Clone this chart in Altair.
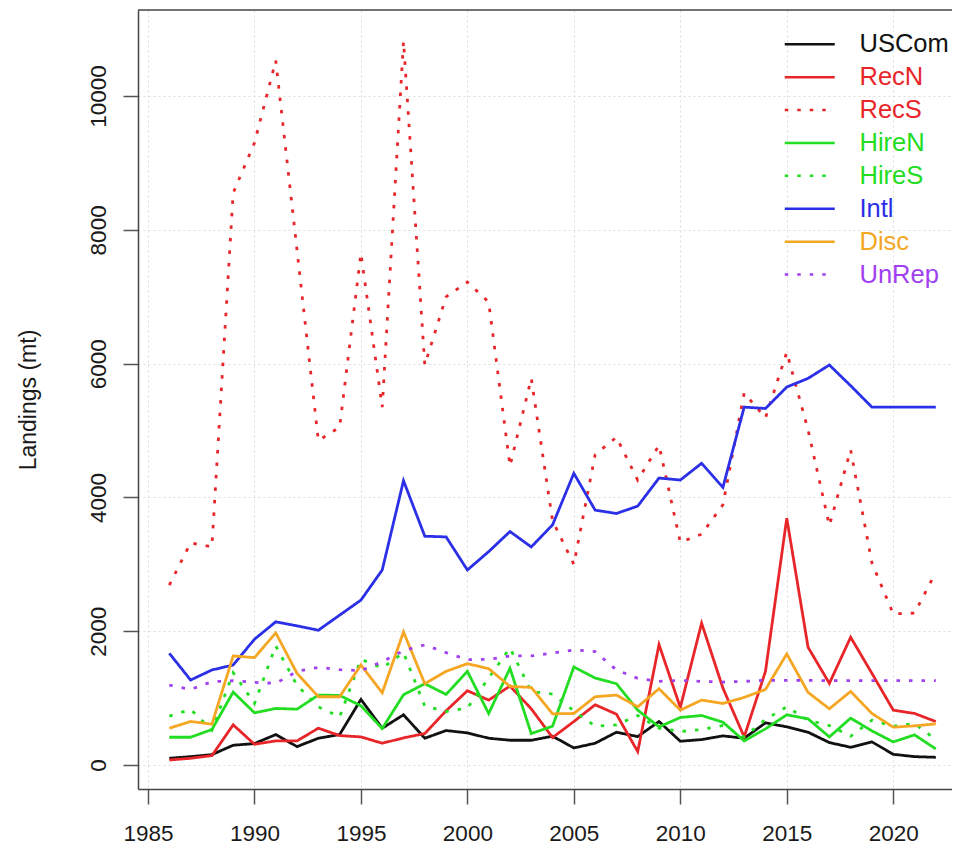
import altair as alt
import pandas as pd

years = list(range(1986, 2023))

uscom = [100, 125, 155, 295, 320, 455, 275, 400, 455, 980, 550, 750, 400, 515, 480, 400, 370, 370,
         430, 255, 325, 490, 425, 650, 355, 380, 435, 400, 630, 570, 490, 335, 265, 345, 160, 125, 115]
recn = [75, 100, 140, 600, 310, 360, 360, 550, 440, 420, 325, 405, 470, 810, 1110, 970, 1180, 840,
        410, 650, 900, 760, 200, 1800, 860, 2120, 1150, 420, 1400, 3690, 1760, 1220, 1910, 1370, 820, 770, 650]
recs = [2690, 3320, 3260, 8550, 9300, 10530, 7690, 4850, 5050, 7650, 5350, 10820, 5980, 7000, 7220, 6920, 4470, 5780,
        3650, 3000, 4640, 4900, 4260, 4780, 3330, 3450, 3890, 5560, 5190, 6170, 5010, 3580, 4710, 3020, 2260, 2270, 2880]
hiren = [415, 415, 530, 1090, 780, 845, 835, 1045, 1040, 885, 545, 1050, 1215, 1055, 1400, 770, 1445, 470,
         580, 1465, 1300, 1215, 820, 570, 710, 740, 640, 360, 540, 750, 690, 420, 700, 510, 345, 450, 240]
hires = [730, 830, 520, 1380, 920, 1780, 1190, 870, 720, 1580, 1450, 1680, 880, 800, 850, 1300, 1750, 1100,
         1060, 810, 580, 600, 740, 550, 500, 530, 590, 420, 680, 870, 670, 590, 430, 670, 580, 620, 380]
intl = [1670, 1270, 1420, 1495, 1880, 2140, 2080, 2015, 2240, 2465, 2915, 4250, 3420, 3410, 2915, 3190, 3490, 3260,
        3590, 4360, 3810, 3760, 3870, 4290, 4260, 4510, 4150, 5350, 5330, 5650, 5780, 5980, 5670, 5350, 5350, 5350, 5350]
disc = [550, 650, 610, 1630, 1605, 1975, 1370, 1020, 1020, 1495, 1080, 1990, 1215, 1400, 1515, 1440, 1175, 1160,
        765, 770, 1020, 1045, 870, 1140, 820, 970, 920, 1010, 1130, 1660, 1085, 840, 1100, 770, 565, 585, 615]
unrep = [1195, 1130, 1245, 1260, 1235, 1220, 1400, 1460, 1425, 1410, 1545, 1710, 1795, 1680, 1575, 1580, 1630, 1630,
         1675, 1720, 1695, 1420, 1295, 1250, 1265, 1250, 1240, 1250, 1265, 1265, 1265, 1260, 1260, 1260, 1260, 1260, 1260]

series_names = ["USCom", "RecN", "RecS", "HireN", "HireS", "Intl", "Disc", "UnRep"]
series_values = [uscom, recn, recs, hiren, hires, intl, disc, unrep]
series_colors = ["#111111", "#E8262A", "#E8262A", "#22DD22", "#22DD22", "#2B2FE6", "#F5A623", "#A040F0"]
series_dash = [[1, 0], [1, 0], [3.5, 9], [1, 0], [3.5, 9], [1, 0], [1, 0], [3.5, 9]]

x_ticks = [1985, 1990, 1995, 2000, 2005, 2010, 2015, 2020]
y_ticks = [0, 2000, 4000, 6000, 8000, 10000]
y_domain = [-359, 11287]
x_domain = [1984.53, 2022.76]

rows = []
for name, vals in zip(series_names, series_values):
    for yr, v in zip(years, vals):
        rows.append({"year": yr, "value": v, "series": name})
df = pd.DataFrame(rows)

label_expr = ""
for name, col in zip(series_names, series_colors):
    label_expr += f"datum.label == '{name}' ? '{col}' : "
label_expr += "'#111111'"

FONT = "Liberation Sans"
FRAME = "#444444"

legend = alt.Legend(
    title=None,
    orient="none",
    legendX=659,
    legendY=21.5,
    symbolType="M-2.5,0H2.5",
    symbolSize=400,
    symbolStrokeWidth=2.5,
    labelFont=FONT,
    labelFontSize=25.5,
    labelOffset=37,
    rowPadding=5.9,
    labelColor=alt.ExprRef(label_expr),
)

lines = alt.Chart(df).mark_line(strokeWidth=2.8).encode(
    x=alt.X("year:Q",
            scale=alt.Scale(domain=x_domain, nice=False, zero=False),
            axis=alt.Axis(values=x_ticks, format="d", title=None, tickSize=15,
                          labelPadding=18, labelFontSize=22.5, labelFont=FONT,
                          labelColor="#1a1a1a", domain=True, domainColor=FRAME, domainWidth=1.5,
                          grid=True, tickColor="#555555", tickWidth=1.5,
                          gridColor="#dcdcdc", gridDash=[2, 3], gridWidth=1)),
    y=alt.Y("value:Q",
            scale=alt.Scale(domain=y_domain, nice=False, zero=False),
            axis=alt.Axis(values=y_ticks, format="d", title="Landings (mt)", tickSize=15,
                          labelAngle=-90, labelAlign="center", labelBaseline="bottom",
                          labelPadding=13, labelFontSize=22.5, labelFont=FONT,
                          labelColor="#1a1a1a", domain=True, domainColor=FRAME, domainWidth=1.5,
                          grid=True, tickColor="#555555", tickWidth=1.5,
                          gridColor="#dcdcdc", gridDash=[2, 3], gridWidth=1,
                          titleFont=FONT, titleFontSize=23, titleFontWeight="normal",
                          titleColor="#1a1a1a", titleX=-110, titleBaseline="middle")),
    color=alt.Color("series:N", scale=alt.Scale(domain=series_names, range=series_colors),
                    sort=series_names, legend=legend),
    strokeDash=alt.StrokeDash("series:N", scale=alt.Scale(domain=series_names, range=series_dash),
                              sort=series_names, legend=legend),
)

top_frame = alt.Chart(pd.DataFrame({"top": [y_domain[1]]})).mark_rule(
    color=FRAME, strokeWidth=1.5
).encode(y=alt.Y("top:Q"))

chart = alt.layer(lines, top_frame).properties(
    width=814,
    height=779,
    autosize=alt.AutoSizeParams(type="none"),
    padding={"left": 130, "top": 2, "right": 0, "bottom": 55},
).configure_view(
    stroke=None,
)

chart.save("out.html", embed_options={"renderer": "svg", "actions": False})
